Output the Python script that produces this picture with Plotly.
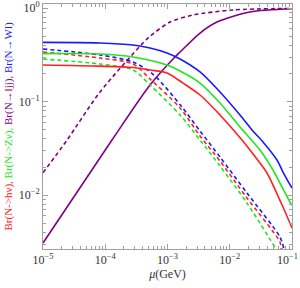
import plotly.graph_objects as go

# ---- data (mu in GeV, branching ratios) ----
mu_W = [1e-5, 8.24e-5, 2.79e-4, 5.24e-4, 9.82e-4, 1.59e-3, 3.33e-3, 6.97e-3, 1.46e-2, 2.28e-2, 3.42e-2, 5.74e-2, 7.16e-2, 0.1]
br_W = [0.431, 0.425, 0.404, 0.375, 0.332, 0.286, 0.208, 0.127, 0.0721, 0.0499, 0.0371, 0.0238, 0.0177, 0.0119]

mu_Z = [1e-5, 8.24e-5, 2.79e-4, 9.82e-4, 1.59e-3, 3.33e-3, 6.97e-3, 1.46e-2, 3.06e-2, 4.95e-2, 6.41e-2, 9.29e-2, 0.1]
br_Z = [0.327, 0.324, 0.301, 0.247, 0.213, 0.1585, 0.0968, 0.0537, 0.0304, 0.0186, 0.0135, 0.00845, 0.00785]

mu_h = [1e-5, 8.24e-5, 2.79e-4, 5.24e-4, 9.82e-4, 1.774e-3, 3.33e-3, 6.97e-3, 1.574e-2, 2.113e-2, 3.963e-2, 4.95e-2, 7.16e-2, 0.1]
br_h = [0.247, 0.240, 0.232, 0.218, 0.203, 0.158, 0.118, 0.0721, 0.0389, 0.0304, 0.0173, 0.01285, 0.00748, 0.00446]

mu_Wd = [1e-5, 8.24e-5, 2.79e-4, 6.03e-4, 1.71e-3, 3.33e-3, 6.97e-3, 1.89e-2, 6.41e-2, 7.43e-2]
br_Wd = [0.366, 0.316, 0.266, 0.193, 0.0877, 0.0486, 0.0256, 0.01057, 0.00357, 0.00266]

mu_hd = [1e-5, 8.24e-5, 2.79e-4, 5.24e-4, 1.59e-3, 3.33e-3, 6.97e-3, 1.89e-2, 6.41e-2, 6.65e-2]
br_hd = [0.340, 0.293, 0.253, 0.175, 0.0857, 0.0430, 0.0232, 0.00933, 0.00316, 0.00266]

mu_Zd = [1e-5, 8.24e-5, 2.79e-4, 5.24e-4, 1.59e-3, 3.33e-3, 6.97e-3, 1.89e-2, 5.53e-2]
br_Zd = [0.286, 0.253, 0.219, 0.151, 0.0721, 0.0389, 0.0205, 0.00826, 0.00266]

mu_ljjd = [1e-5, 2.43e-5, 8.24e-5, 4.04e-4, 5.24e-4, 1.096e-3, 2.57e-3, 1.127e-2, 0.1]
br_ljjd = [0.0174, 0.0389, 0.127, 0.425, 0.501, 0.711, 0.845, 0.957, 0.995]

mu_ljj = [1e-5, 1.282e-4, 5.24e-4, 1.318e-3, 1.59e-3, 3.33e-3, 6.24e-3, 2.11e-2, 0.1]
br_ljj = [0.00309, 0.0389, 0.151, 0.301, 0.340, 0.543, 0.711, 0.910, 0.985]

x_tickvals = [1e-5, 1e-4, 1e-3, 1e-2, 1e-1]
x_ticktext = ["10<sup>−5</sup>", "10<sup>−4</sup>", "10<sup>−3</sup>", "10<sup>−2</sup>",
              "10<sup>−1</sup>&nbsp;&nbsp;&nbsp;"]
y_tickvals = [1e-2, 1e-1, 1]
y_ticktext = ["10<sup>−2</sup>", "10<sup>−1</sup>", "10<sup>0</sup>"]

RED = "#ff2020"
GREEN = "#22e622"
BLUE = "#1a1aff"
PURPLE = "#800080"

series = [
    (mu_ljj, br_ljj, PURPLE, "solid"),
    (mu_ljjd, br_ljjd, PURPLE, "4px,3px"),
    (mu_Zd, br_Zd, GREEN, "4px,3px"),
    (mu_hd, br_hd, RED, "4px,3px"),
    (mu_Wd, br_Wd, BLUE, "4px,3px"),
    (mu_h, br_h, RED, "solid"),
    (mu_Z, br_Z, GREEN, "solid"),
    (mu_W, br_W, BLUE, "solid"),
]

fig = go.Figure()
for xs, ys, col, dash in series:
    fig.add_trace(go.Scatter(x=xs, y=ys, mode="lines",
                             line=dict(color=col, width=1.6, dash=dash, shape="spline", smoothing=0.8),
                             showlegend=False, hoverinfo="skip"))

minor_x = [k * 10.0 ** e for e in range(-5, -1) for k in range(2, 10)]
minor_y = [k * 10.0 ** e for e in range(-3, 0) for k in range(2, 10)]

axis_common = dict(type="log", showgrid=False, zeroline=False, showline=True, automargin=False,
                   linecolor="#a0a0a0", linewidth=1, mirror="allticks",
                   ticks="inside", ticklen=5, tickwidth=1, tickcolor="#a0a0a0",
                   ticklabeloverflow="allow",
                   tickfont=dict(family="Liberation Serif", size=12, color="#333333"))

fig.update_xaxes(range=[-5, -1], tickvals=x_tickvals, ticktext=x_ticktext,
                 minor=dict(tickvals=minor_x, ticks="inside", ticklen=3, tickcolor="#a0a0a0"),
                 title=dict(text="<i>μ</i>(GeV)", font=dict(family="Liberation Serif", size=12, color="#333333"), standoff=2),
                 **axis_common)
fig.update_yaxes(range=[-2.575, 0.045], tickvals=y_tickvals, ticktext=y_ticktext,
                 minor=dict(tickvals=minor_y, ticks="inside", ticklen=3, tickcolor="#a0a0a0"),
                 **axis_common)

ytitle = (f'<span style="color:{RED}">Br(N-&gt;hν), </span>'
          f'<span style="color:{GREEN}">Br(N-&gt;Zν), </span>'
          f'<span style="color:{PURPLE}">Br(N→ljj), </span>'
          f'<span style="color:{BLUE}">Br(N→Wl)</span>')
fig.add_annotation(text=ytitle, xref="paper", yref="paper", x=-35 / 249, y=0.5,
                   xanchor="center", yanchor="middle", textangle=-90, showarrow=False,
                   font=dict(family="Liberation Serif", size=11))

fig.update_layout(width=300, height=288, margin=dict(l=43, r=8, t=4, b=39),
                  plot_bgcolor="white", paper_bgcolor="white", hovermode=False)

fig.write_html("out.html", config={"displayModeBar": False, "staticPlot": True},
               post_script="document.body.style.margin='0';document.body.style.padding='0';")
